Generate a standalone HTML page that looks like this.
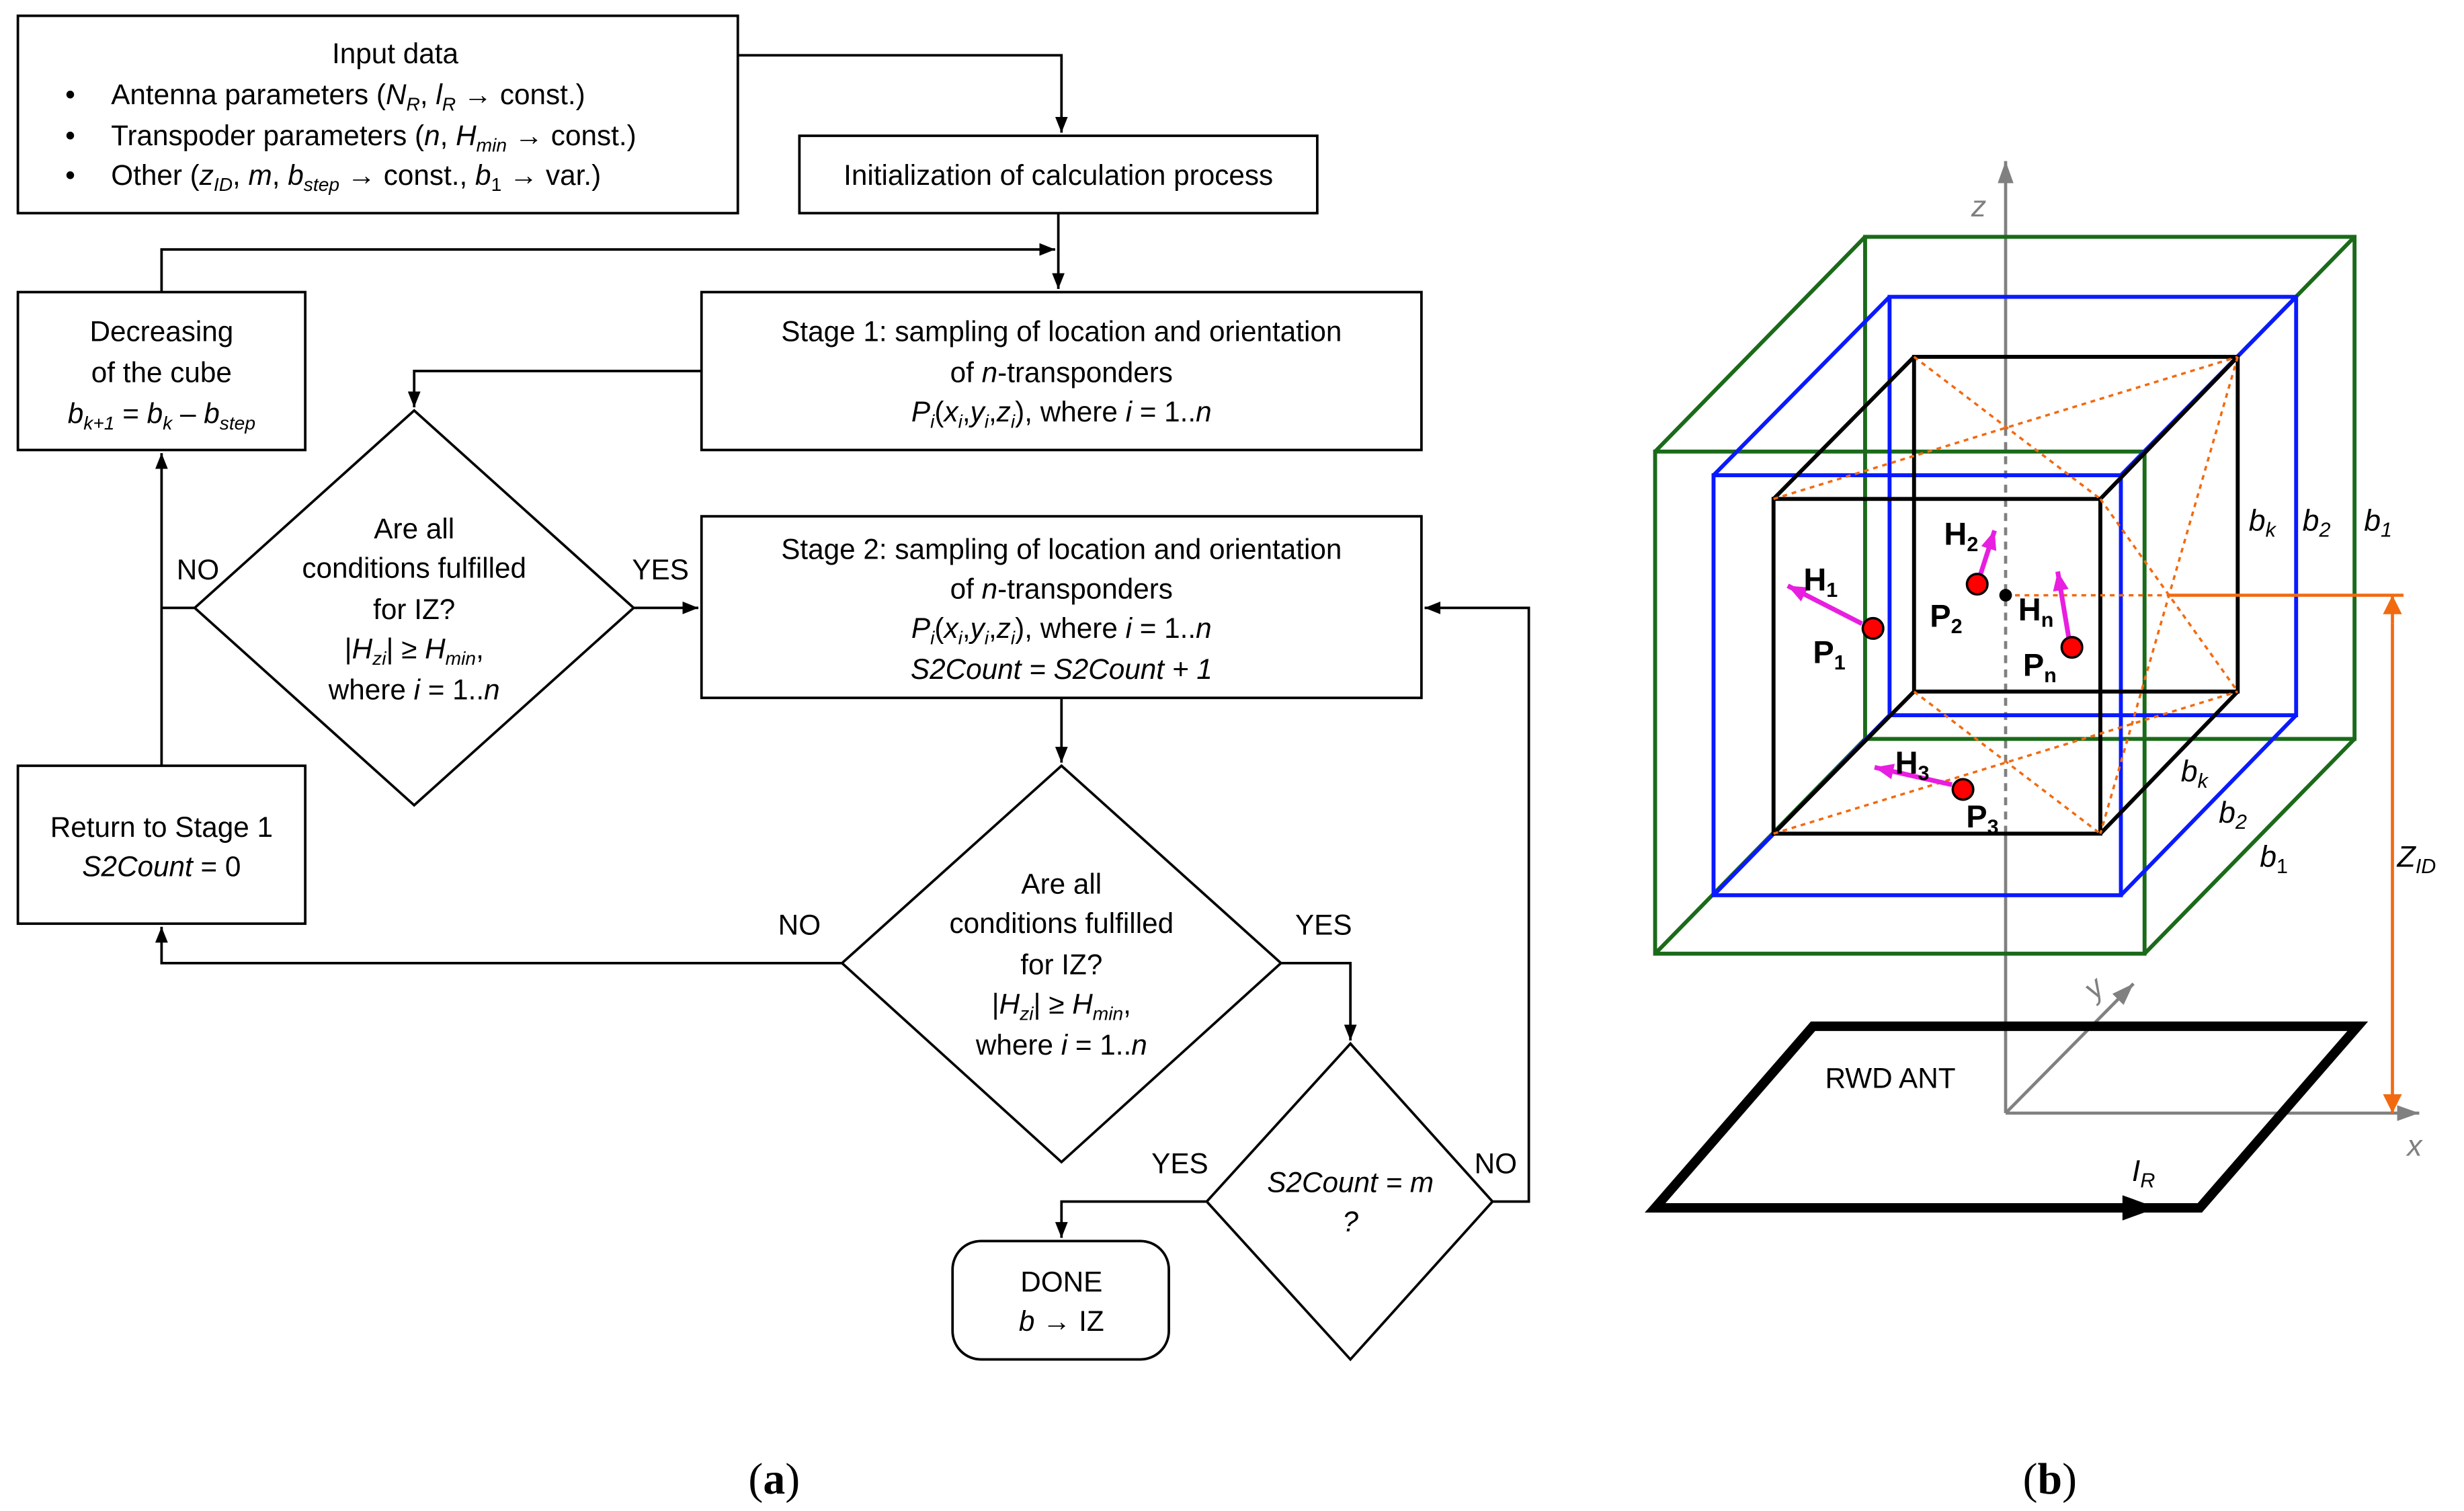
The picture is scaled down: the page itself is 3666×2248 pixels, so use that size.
<!DOCTYPE html>
<html><head><meta charset="utf-8"><style>html,body{margin:0;padding:0;background:#fff}svg{display:block}</style></head>
<body>
<svg xmlns="http://www.w3.org/2000/svg" width="3666" height="2248" viewBox="0 0 1560 957">
<defs>
<marker id="a" markerWidth="10" markerHeight="8" refX="10" refY="4" orient="auto" markerUnits="userSpaceOnUse"><path d="M0,0 L10,4 L0,8 z" fill="#000"/></marker>
<marker id="g" markerWidth="14" markerHeight="10" refX="14" refY="5" orient="auto" markerUnits="userSpaceOnUse"><path d="M0,0 L14,5 L0,10 z" fill="#808080"/></marker>
<marker id="o" markerWidth="12" markerHeight="12" refX="12" refY="6" orient="auto" markerUnits="userSpaceOnUse"><path d="M0,0 L12,6 L0,12 z" fill="#f26a10"/></marker>
<marker id="m" markerWidth="12" markerHeight="10" refX="12" refY="5" orient="auto" markerUnits="userSpaceOnUse"><path d="M0,0 L12,5 L0,10 z" fill="#e81ee0"/></marker>
</defs>
<g font-family="Liberation Sans, Arial, sans-serif" font-size="18" fill="#000">
<g fill="none" stroke="#000" stroke-width="1.6">
<rect x="11" y="10" width="456" height="125"/>
<rect x="506" y="86" width="328" height="49"/>
<rect x="11" y="185" width="182" height="100"/>
<rect x="444" y="185" width="456" height="100"/>
<rect x="444" y="327" width="456" height="115"/>
<rect x="11" y="485" width="182" height="100"/>
<rect x="603" y="786" width="137" height="75" rx="18"/>
<polygon points="262,260 401,385 262,510 123,385"/>
<polygon points="672,485 811,610 672,736 533,610"/>
<polygon points="855,661 945,761 855,861 764,761"/>
</g>
<g fill="none" stroke="#000" stroke-width="1.6">
<polyline points="467,35 672,35 672,84" marker-end="url(#a)"/>
<polyline points="670,135 670,183" marker-end="url(#a)"/>
<polyline points="102,185 102,158 668,158" marker-end="url(#a)"/>
<polyline points="444,235 262,235 262,258" marker-end="url(#a)"/>
<polyline points="401,385 442,385" marker-end="url(#a)"/>
<polyline points="123,385 102,385"/>
<polyline points="102,485 102,287" marker-end="url(#a)"/>
<polyline points="672,442 672,483" marker-end="url(#a)"/>
<polyline points="533,610 102,610 102,587" marker-end="url(#a)"/>
<polyline points="811,610 855,610 855,659" marker-end="url(#a)"/>
<polyline points="764,761 672,761 672,784" marker-end="url(#a)"/>
<polyline points="945,761 968,761 968,385 902,385" marker-end="url(#a)"/>
</g>
<text x="250" y="40" text-anchor="middle">Input data</text>
<text x="41" y="66">•</text><text x="41" y="92">•</text><text x="41" y="117">•</text>
<text x="70" y="66">Antenna parameters (<tspan font-style="italic">N</tspan><tspan font-size="12" dy="4" font-style="italic">R</tspan><tspan dy="-4">, </tspan><tspan font-style="italic">l</tspan><tspan font-size="12" dy="4" font-style="italic">R</tspan><tspan dy="-4"> → const.)</tspan></text>
<text x="70" y="92">Transpoder parameters (<tspan font-style="italic">n</tspan>, <tspan font-style="italic">H</tspan><tspan font-size="12" dy="4" font-style="italic">min</tspan><tspan dy="-4"> → const.)</tspan></text>
<text x="70" y="117">Other (<tspan font-style="italic">z</tspan><tspan font-size="12" dy="4" font-style="italic">ID</tspan><tspan dy="-4">, </tspan><tspan font-style="italic">m</tspan>, <tspan font-style="italic">b</tspan><tspan font-size="12" dy="4" font-style="italic">step</tspan><tspan dy="-4"> → const., </tspan><tspan font-style="italic">b</tspan><tspan font-size="12" dy="4">1</tspan><tspan dy="-4"> → var.)</tspan></text>
<text x="670" y="117" text-anchor="middle">Initialization of calculation process</text>
<text x="102" y="216" text-anchor="middle">Decreasing</text>
<text x="102" y="242" text-anchor="middle">of the cube</text>
<text x="102" y="268" text-anchor="middle"><tspan font-style="italic">b</tspan><tspan font-size="12" dy="4" font-style="italic">k+1</tspan><tspan dy="-4"> = </tspan><tspan font-style="italic">b</tspan><tspan font-size="12" dy="4" font-style="italic">k</tspan><tspan dy="-4"> – </tspan><tspan font-style="italic">b</tspan><tspan font-size="12" dy="4" font-style="italic">step</tspan></text>
<text x="672" y="216" text-anchor="middle">Stage 1: sampling of location and orientation</text>
<text x="672" y="242" text-anchor="middle">of <tspan font-style="italic">n</tspan>-transponders</text>
<text x="672" y="267" text-anchor="middle"><tspan font-style="italic">P</tspan><tspan font-size="12" dy="4" font-style="italic">i</tspan><tspan dy="-4">(</tspan><tspan font-style="italic">x</tspan><tspan font-size="12" dy="4" font-style="italic">i</tspan><tspan dy="-4">,</tspan><tspan font-style="italic">y</tspan><tspan font-size="12" dy="4" font-style="italic">i</tspan><tspan dy="-4">,</tspan><tspan font-style="italic">z</tspan><tspan font-size="12" dy="4" font-style="italic">i</tspan><tspan dy="-4">), where </tspan><tspan font-style="italic">i</tspan> = 1..<tspan font-style="italic">n</tspan></text>
<text x="672" y="354" text-anchor="middle">Stage 2: sampling of location and orientation</text>
<text x="672" y="379" text-anchor="middle">of <tspan font-style="italic">n</tspan>-transponders</text>
<text x="672" y="404" text-anchor="middle"><tspan font-style="italic">P</tspan><tspan font-size="12" dy="4" font-style="italic">i</tspan><tspan dy="-4">(</tspan><tspan font-style="italic">x</tspan><tspan font-size="12" dy="4" font-style="italic">i</tspan><tspan dy="-4">,</tspan><tspan font-style="italic">y</tspan><tspan font-size="12" dy="4" font-style="italic">i</tspan><tspan dy="-4">,</tspan><tspan font-style="italic">z</tspan><tspan font-size="12" dy="4" font-style="italic">i</tspan><tspan dy="-4">), where </tspan><tspan font-style="italic">i</tspan> = 1..<tspan font-style="italic">n</tspan></text>
<text x="672" y="430" text-anchor="middle" font-style="italic">S2Count = S2Count + 1</text>
<text x="262" y="341" text-anchor="middle">Are all</text>
<text x="262" y="366" text-anchor="middle">conditions fulfilled</text>
<text x="262" y="392" text-anchor="middle">for IZ?</text>
<text x="262" y="417" text-anchor="middle">|<tspan font-style="italic">H</tspan><tspan font-size="12" dy="4" font-style="italic">zi</tspan><tspan dy="-4">| ≥ </tspan><tspan font-style="italic">H</tspan><tspan font-size="12" dy="4" font-style="italic">min</tspan><tspan dy="-4">,</tspan></text>
<text x="262" y="443" text-anchor="middle">where <tspan font-style="italic">i</tspan> = 1..<tspan font-style="italic">n</tspan></text>
<text x="672" y="566" text-anchor="middle">Are all</text>
<text x="672" y="591" text-anchor="middle">conditions fulfilled</text>
<text x="672" y="617" text-anchor="middle">for IZ?</text>
<text x="672" y="642" text-anchor="middle">|<tspan font-style="italic">H</tspan><tspan font-size="12" dy="4" font-style="italic">zi</tspan><tspan dy="-4">| ≥ </tspan><tspan font-style="italic">H</tspan><tspan font-size="12" dy="4" font-style="italic">min</tspan><tspan dy="-4">,</tspan></text>
<text x="672" y="668" text-anchor="middle">where <tspan font-style="italic">i</tspan> = 1..<tspan font-style="italic">n</tspan></text>
<text x="855" y="755" text-anchor="middle" font-style="italic">S2Count = m</text>
<text x="855" y="780" text-anchor="middle" font-style="italic">?</text>
<text x="102" y="530" text-anchor="middle">Return to Stage 1</text>
<text x="102" y="555" text-anchor="middle" font-style="italic">S2Count<tspan font-style="normal"> = 0</tspan></text>
<text x="672" y="818" text-anchor="middle">DONE</text>
<text x="672" y="843" text-anchor="middle"><tspan font-style="italic">b</tspan> → IZ</text>
<text x="125" y="367" text-anchor="middle">NO</text>
<text x="418" y="367" text-anchor="middle">YES</text>
<text x="506" y="592" text-anchor="middle">NO</text>
<text x="838" y="592" text-anchor="middle">YES</text>
<text x="747" y="743" text-anchor="middle">YES</text>
<text x="947" y="743" text-anchor="middle">NO</text>
<text x="490" y="946" text-anchor="middle" font-family="Liberation Serif, serif" font-size="28">(<tspan font-weight="bold">a</tspan>)</text>
<text x="1298" y="946" text-anchor="middle" font-family="Liberation Serif, serif" font-size="28">(<tspan font-weight="bold">b</tspan>)</text>

<g stroke="#808080" stroke-width="2" fill="none">
<line x1="1270" y1="705" x2="1270" y2="528"/>
<line x1="1270" y1="271" x2="1270" y2="102" marker-end="url(#g)"/>
<line x1="1270" y1="271" x2="1270" y2="528" stroke-dasharray="5,4"/>
<line x1="1270" y1="705" x2="1532" y2="705" marker-end="url(#g)"/>
<line x1="1270" y1="705" x2="1351" y2="623" marker-end="url(#g)"/>
</g>
<text x="1253" y="137" fill="#808080" font-style="italic" font-size="19" text-anchor="middle">z</text>
<text x="1529" y="732" fill="#808080" font-style="italic" font-size="19" text-anchor="middle">x</text>
<text x="1326" y="632" fill="#808080" font-style="italic" font-size="19" text-anchor="middle" transform="rotate(-40 1326 626)">y</text>
<g fill="none" stroke="#1a6a1a" stroke-width="2.5">
<rect x="1181" y="150" width="310" height="318"/>
<rect x="1048" y="286" width="310" height="318"/>
<line x1="1048" y1="286" x2="1181" y2="150"/><line x1="1358" y1="286" x2="1491" y2="150"/>
<line x1="1358" y1="604" x2="1491" y2="468"/><line x1="1048" y1="604" x2="1181" y2="468"/>
</g>
<g fill="none" stroke="#0a1aff" stroke-width="2.5">
<rect x="1196.5" y="188" width="257.5" height="265"/>
<rect x="1085" y="301" width="258" height="266"/>
<line x1="1085" y1="301" x2="1196.5" y2="188"/><line x1="1343" y1="301" x2="1454" y2="188"/>
<line x1="1343" y1="567" x2="1454" y2="453"/><line x1="1085" y1="567" x2="1196.5" y2="453"/>
</g>
<g fill="none" stroke="#000" stroke-width="2.5">
<rect x="1212" y="226" width="205" height="212"/>
<rect x="1123" y="316" width="207" height="212"/>
<line x1="1123" y1="316" x2="1212" y2="226"/><line x1="1330" y1="316" x2="1417" y2="226"/>
<line x1="1330" y1="528" x2="1417" y2="438"/><line x1="1123" y1="528" x2="1212" y2="438"/>
</g>
<g stroke="#f26a10" stroke-width="1.5" stroke-dasharray="3,3" fill="none">
<line x1="1123" y1="316" x2="1417" y2="226"/><line x1="1212" y1="226" x2="1330" y2="316"/>
<line x1="1330" y1="316" x2="1417" y2="438"/><line x1="1417" y1="226" x2="1330" y2="528"/>
<line x1="1123" y1="528" x2="1417" y2="438"/><line x1="1212" y1="438" x2="1330" y2="528"/>
<line x1="1270" y1="377" x2="1374" y2="377"/>
</g>
<g stroke="#f26a10" stroke-width="2" fill="none">
<line x1="1374" y1="377" x2="1522" y2="377"/>
<line x1="1515" y1="395" x2="1515" y2="377" marker-end="url(#o)"/>
<line x1="1515" y1="395" x2="1515" y2="705" marker-end="url(#o)"/>
</g>
<circle cx="1270" cy="377" r="4" fill="#000"/>
<g stroke="#e81ee0" stroke-width="3" fill="none">
<line x1="1179" y1="395" x2="1132" y2="371" marker-end="url(#m)"/>
<line x1="1254" y1="364" x2="1263" y2="336" marker-end="url(#m)"/>
<line x1="1310" y1="404" x2="1303" y2="362" marker-end="url(#m)"/>
<line x1="1236" y1="497" x2="1187" y2="486" marker-end="url(#m)"/>
</g>
<g fill="#ff0000" stroke="#000" stroke-width="1.5">
<circle cx="1186" cy="398" r="6.5"/><circle cx="1252" cy="370" r="6.5"/>
<circle cx="1312" cy="410" r="6.5"/><circle cx="1243" cy="500" r="6.5"/>
</g>
<g font-weight="bold" font-size="20">
<text x="1142" y="374">H<tspan font-size="13" dy="4">1</tspan></text>
<text x="1148" y="420">P<tspan font-size="13" dy="4">1</tspan></text>
<text x="1231" y="345">H<tspan font-size="13" dy="4">2</tspan></text>
<text x="1222" y="397">P<tspan font-size="13" dy="4">2</tspan></text>
<text x="1278" y="393">H<tspan font-size="13" dy="4">n</tspan></text>
<text x="1281" y="428">P<tspan font-size="13" dy="4">n</tspan></text>
<text x="1200" y="490">H<tspan font-size="13" dy="4">3</tspan></text>
<text x="1245" y="524">P<tspan font-size="13" dy="4">3</tspan></text>
</g>
<g font-style="italic" font-size="19">
<text x="1424" y="336">b<tspan font-size="13" dy="4">k</tspan></text>
<text x="1458" y="336">b<tspan font-size="13" dy="4">2</tspan></text>
<text x="1497" y="336">b<tspan font-size="13" dy="4">1</tspan></text>
<text x="1381" y="495">b<tspan font-size="13" dy="4">k</tspan></text>
<text x="1405" y="521">b<tspan font-size="13" dy="4">2</tspan></text>
<text x="1431" y="549">b<tspan font-size="13" dy="4" font-style="normal">1</tspan></text>
<text x="1518" y="549">Z<tspan font-size="13" dy="4">ID</tspan></text>
<text x="1350" y="748">I<tspan font-size="13" dy="4">R</tspan></text>
</g>
<polygon points="1048,765 1393,765 1493,650 1148,650" fill="none" stroke="#000" stroke-width="6" stroke-linejoin="miter"/>
<path d="M1344,757 L1366,765 L1344,773 z" fill="#000"/>
<text x="1197" y="689" text-anchor="middle">RWD ANT</text>
</g>
</svg>
</body></html>
